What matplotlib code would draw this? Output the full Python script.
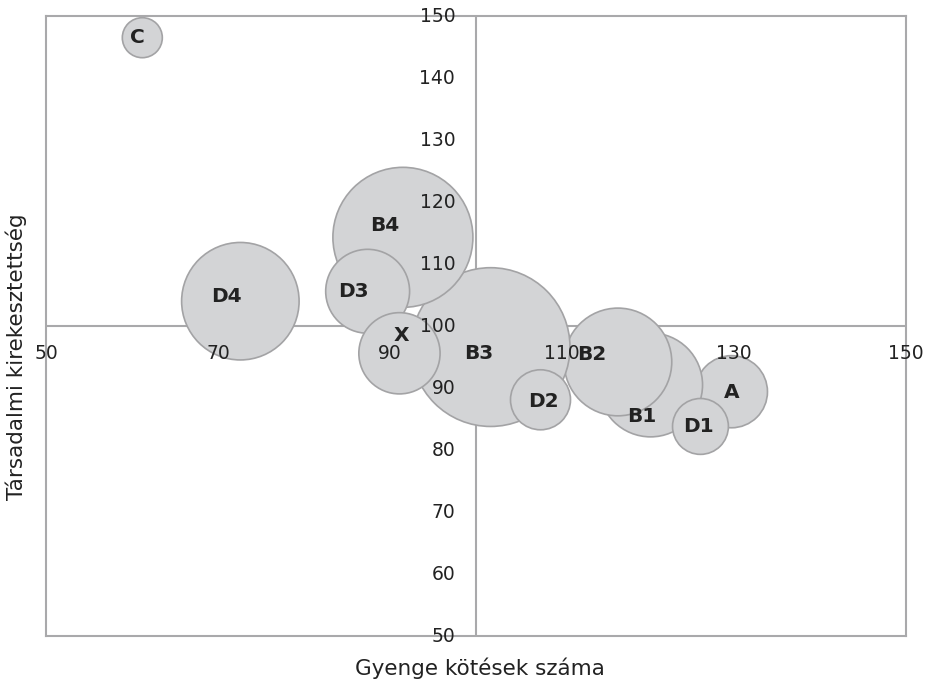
import matplotlib.pyplot as plt

# bubble data
names = ['A', 'B1', 'B2', 'B3', 'B4', 'C', 'D1', 'D2', 'D3', 'D4', 'X']
weak_ties = [129.7, 120.3, 116.5, 101.7, 91.5, 61.2, 126.1, 107.5, 87.4, 72.6, 91.1]
exclusion = [89.4, 90.5, 94.2, 96.6, 114.3, 146.5, 83.8, 88.1, 105.6, 104.0, 95.6]
sizes = [13.0, 27.0, 29.0, 63.0, 49.0, 4.0, 7.8, 9.0, 17.6, 34.5, 16.5]

xticks = [50, 70, 90, 110, 130, 150]
yticks = [50, 60, 70, 80, 90, 100, 110, 120, 130, 140, 150]

# label nudges (pixels, right / down)
label_shift = {'A': (0, 1), 'B1': (-9, 32), 'B2': (-26, -7), 'B3': (-12, 6),
               'B4': (-18, -12), 'C': (-5, 0), 'D1': (-2, 0), 'D2': (3, 2),
               'D3': (-14, 0), 'D4': (-14, -5), 'X': (2, -18)}

plt.rcParams['font.family'] = ['DejaVu Sans']
line_col = '#a9a9ab'
text_col = '#222222'

fig = plt.figure(figsize=(9.26, 6.83), dpi=100)
ax = fig.add_axes([46 / 926, 47 / 683, 860 / 926, 620 / 683])
ax.set_xlim(50, 150)
ax.set_ylim(50, 150)
ax.set_xticks([])
ax.set_yticks([])
for sp in ax.spines.values():
    sp.set_color(line_col)
    sp.set_linewidth(1.5)

# crossing axes at 100
ax.axhline(100, color=line_col, lw=1.5, zorder=1)
ax.axvline(100, color=line_col, lw=1.5, zorder=1)

ax.scatter(weak_ties, exclusion, s=[v * 207.4 for v in sizes],
           color='#d3d4d6', edgecolors='#a3a3a5', linewidths=1.2,
           zorder=2, clip_on=False)

for n, x, y in zip(names, weak_ties, exclusion):
    dx, dy = label_shift[n]
    ax.annotate(n, (x, y), xytext=(dx * 0.72, -dy * 0.72), textcoords='offset points',
                ha='center', va='center', fontsize=14.5, fontweight='bold',
                color=text_col, zorder=5)

for t in xticks:
    ax.annotate(str(t), (t, 100), xytext=(0, -19.5), textcoords='offset points',
                ha='center', va='center', fontsize=13.5, color=text_col,
                zorder=4, annotation_clip=False)
for t in yticks:
    ax.annotate(str(t), (100, t), xytext=(-15, 0), textcoords='offset points',
                ha='right', va='center', fontsize=13.5, color=text_col,
                zorder=4, annotation_clip=False)

fig.text(480 / 926, 1 - 668 / 683, 'Gyenge kötések száma', ha='center', va='center',
         fontsize=15.5, color=text_col)
fig.text(16 / 926, 1 - 357 / 683, 'Társadalmi kirekesztettség', ha='center', va='center',
         rotation=90, fontsize=15.5, color=text_col)

fig.savefig('out.png', dpi=100)
